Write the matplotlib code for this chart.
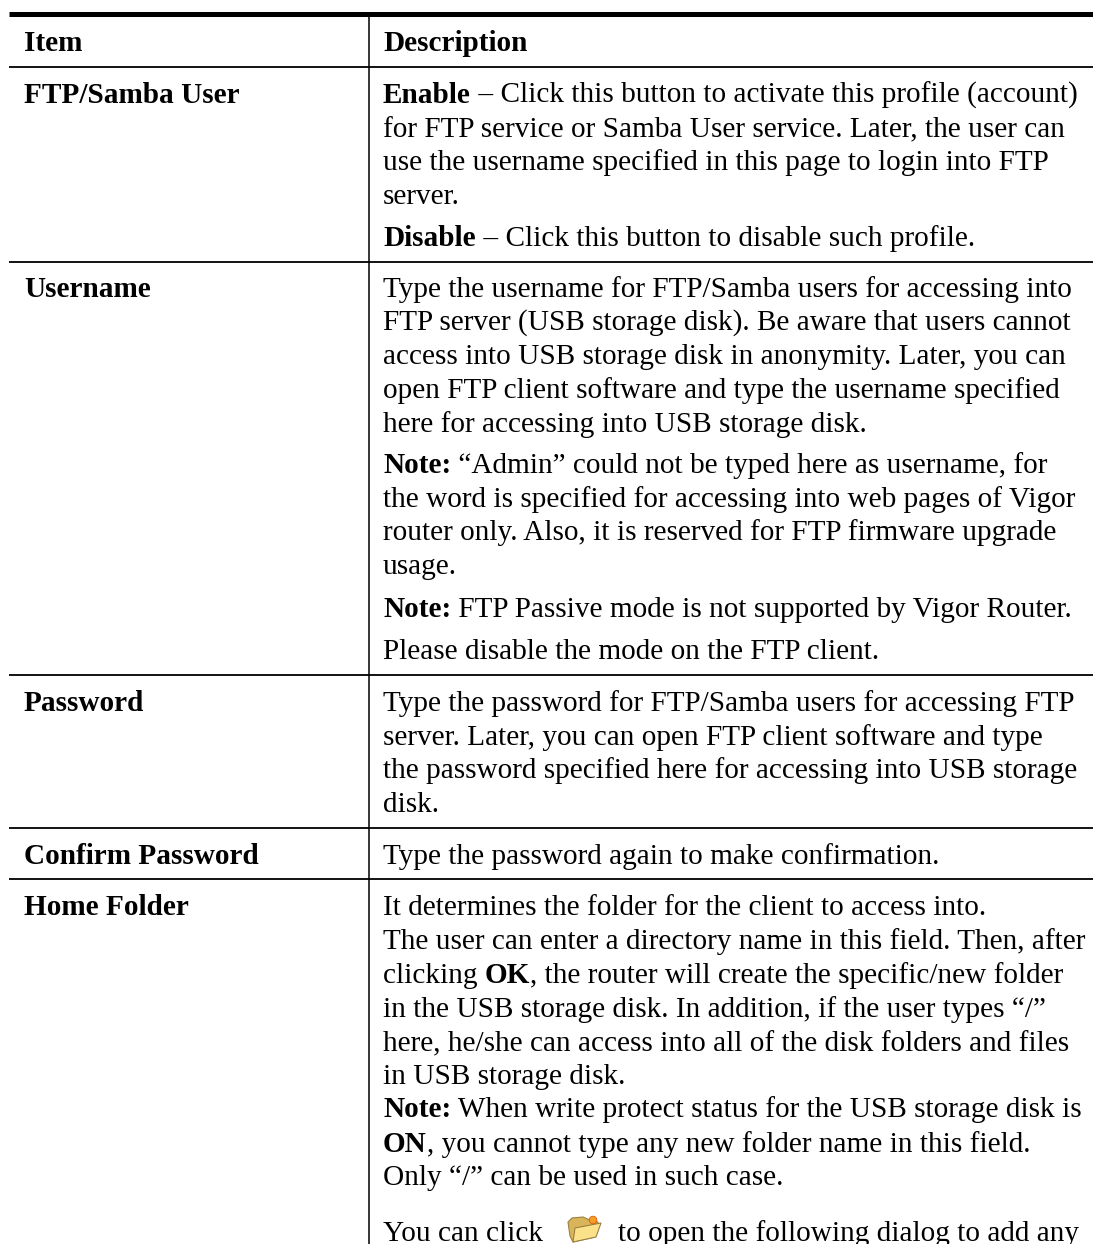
import matplotlib
matplotlib.use("Agg")
import matplotlib.pyplot as plt
from matplotlib.patches import Polygon, Circle

W, H = 1093, 1244
FS = 21.1
items = ["Item", "FTP/Samba User", "Username", "Password", "Confirm Password", "Home Folder"]
item_y = [51, 103, 297, 711, 864, 915]
rule_y = [67, 262, 675, 828, 879]
# each line: baseline y, list of (text, bold)
desc = [
 (51, [("Description", True)]),
 (103, [("Enable", True), (" – Click this button to activate this profile (account)", False)]),
 (137, [("for FTP service or Samba User service. Later, the user can", False)]),
 (170, [("use the username specified in this page to login into FTP", False)]),
 (204, [("server.", False)]),
 (246, [("Disable", True), (" – Click this button to disable such profile.", False)]),
 (297, [("Type the username for FTP/Samba users for accessing into", False)]),
 (330, [("FTP server (USB storage disk). Be aware that users cannot", False)]),
 (364, [("access into USB storage disk in anonymity. Later, you can", False)]),
 (398, [("open FTP client software and type the username specified", False)]),
 (432, [("here for accessing into USB storage disk.", False)]),
 (473, [("Note:", True), (" “Admin” could not be typed here as username, for", False)]),
 (507, [("the word is specified for accessing into web pages of Vigor", False)]),
 (540, [("router only. Also, it is reserved for FTP firmware upgrade", False)]),
 (574, [("usage.", False)]),
 (617, [("Note:", True), (" FTP Passive mode is not supported by Vigor Router.", False)]),
 (659, [("Please disable the mode on the FTP client.", False)]),
 (711, [("Type the password for FTP/Samba users for accessing FTP", False)]),
 (745, [("server. Later, you can open FTP client software and type", False)]),
 (778, [("the password specified here for accessing into USB storage", False)]),
 (812, [("disk.", False)]),
 (864, [("Type the password again to make confirmation.", False)]),
 (915, [("It determines the folder for the client to access into.", False)]),
 (949, [("The user can enter a directory name in this field. Then, after", False)]),
 (983, [("clicking ", False), ("OK", True), (", the router will create the specific/new folder", False)]),
 (1017, [("in the USB storage disk. In addition, if the user types “/”", False)]),
 (1051, [("here, he/she can access into all of the disk folders and files", False)]),
 (1084, [("in USB storage disk.", False)]),
 (1117, [("Note:", True), (" When write protect status for the USB storage disk is", False)]),
 (1152, [("ON", True), (", you cannot type any new folder name in this field.", False)]),
 (1185, [("Only “/” can be used in such case.", False)]),
 (1241, [("You can click", False)]),
]

fig = plt.figure(figsize=(W / 100, H / 100), dpi=100, facecolor="white")
ax = fig.add_axes([0, 0, 1, 1])
ax.set_xlim(0, W)
ax.set_ylim(H, 0)
ax.axis("off")
font = "Liberation Serif"
r = fig.canvas.get_renderer()

ax.plot([9, W], [13.5, 13.5], color="black", lw=3.6, solid_capstyle="butt")
ax.plot([368.8, 368.8], [14, H], color="black", lw=1.1, solid_capstyle="butt")
for y in rule_y:
    ax.plot([9, W], [y, y], color="black", lw=1.3, solid_capstyle="butt")

for t, y in zip(items, item_y):
    ax.text(24, y, t, fontsize=FS, fontfamily=font, fontweight="bold", va="baseline", ha="left")

for y, runs in desc:
    x = 383
    for s, b in runs:
        txt = ax.text(x, y, s, fontsize=FS, fontfamily=font, fontweight="bold" if b else "normal",
                      va="baseline", ha="left")
        # advance width of the run, spaces included
        tw, _, _ = r.get_text_width_height_descent(s, txt.get_fontproperties(), False)
        x += tw

ax.text(618, 1241, "to open the following dialog to add any", fontsize=FS, fontfamily=font, va="baseline", ha="left")

# folder icon
ax.add_patch(Polygon([(568, 1222), (572, 1218), (583, 1217), (592, 1221), (598, 1222), (595, 1237), (573, 1242), (570, 1236)],
                     closed=True, facecolor="#d9b45a", edgecolor="#9a8040", lw=0.8))
ax.add_patch(Polygon([(575, 1228), (601, 1223), (596, 1237), (573, 1242)],
                     closed=True, facecolor="#fbe28a", edgecolor="#9a8040", lw=0.8))
ax.add_patch(Circle((593, 1220), 3.8, facecolor="#f2a024", edgecolor="#e05a10", lw=0.6))

fig.savefig("out.png", dpi=100)
